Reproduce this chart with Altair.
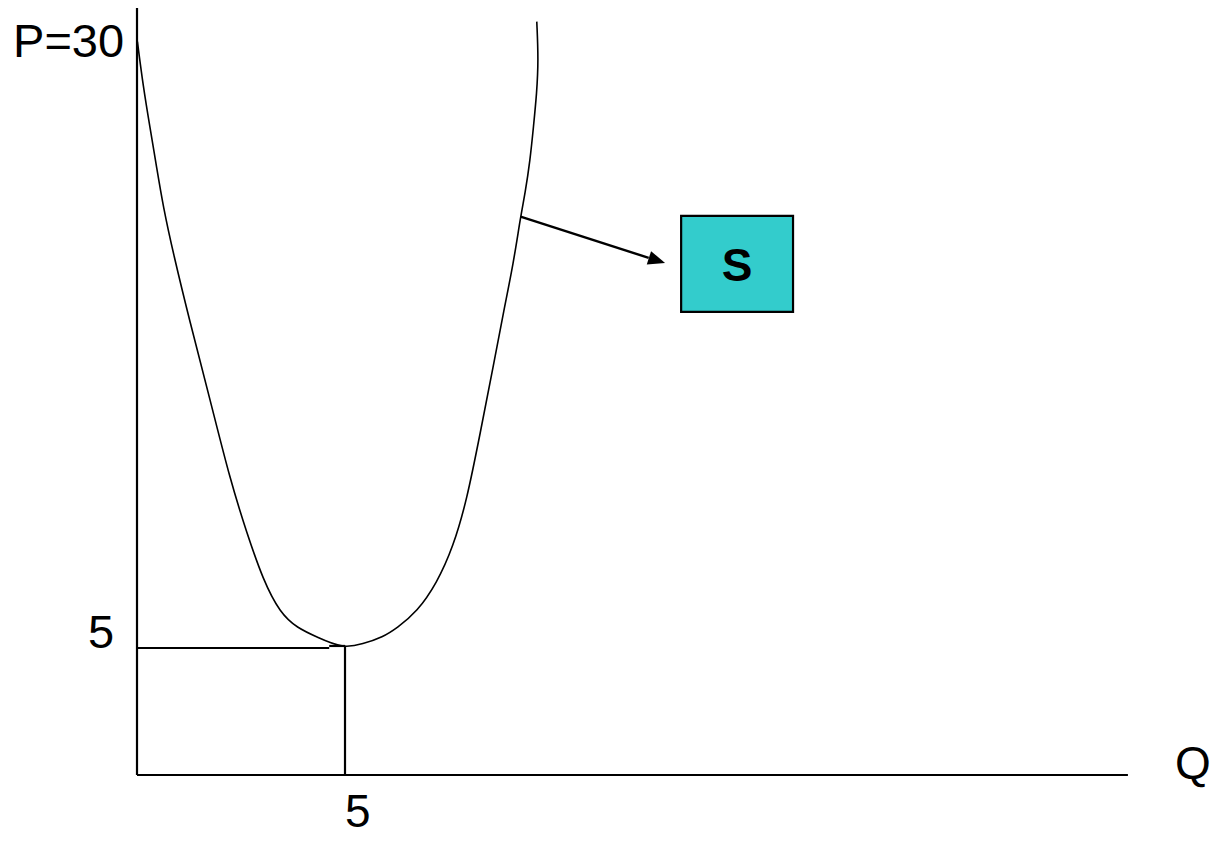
import altair as alt
import pandas as pd

# ---- data (Q, P units) ----
curve_q = [0.01, 0.15, 0.31, 0.47, 0.63, 0.87, 1.26, 1.76, 2.24, 2.64, 3.03, 3.44,
           3.85, 4.33, 4.95, 5.43, 5.91, 6.25, 6.73, 7.21, 7.60, 7.93, 8.25, 8.56,
           8.82, 9.05, 9.22, 9.33, 9.45, 9.53, 9.61, 9.65, 9.61]
curve_p = [28.87, 27.10, 25.51, 23.95, 22.37, 20.55, 17.91, 14.76, 11.61, 9.53, 7.68, 6.38,
           5.79, 5.43, 4.98, 5.16, 5.43, 5.79, 6.42, 7.56, 8.98, 10.83, 13.46, 16.06,
           18.31, 20.16, 21.98, 22.91, 24.21, 25.52, 26.85, 28.15, 29.66]

axis_q_max = 23.82
axis_p_max = 30.2
q_star = 5.0
p_star = 5.0

arrow_start = (9.22, 21.98)
arrow_end = (12.30, 20.36)
arrow_head = (12.50, 20.26)

box_q = (13.08, 15.77)
box_p = (18.23, 22.01)
box_label = "S"

labels_text = ["P=30", "5", "5", "Q"]
labels_q = [-0.31, -0.55, 5.31, 25.38]
labels_p = [28.27, 5.0, -2.05, -0.16]
labels_size = [47, 47, 46, 46]
labels_align = ["right", "right", "center", "center"]

# ---- scales ----
xs = alt.Scale(domain=[-3.101, 25.793], nice=False, zero=False)
ys = alt.Scale(domain=[-2.441, 30.197], nice=False, zero=False)
FONT = "Liberation Sans"

def X(f):
    return alt.X(f, type="quantitative", scale=xs, axis=None)

def Y(f):
    return alt.Y(f, type="quantitative", scale=ys, axis=None)

curve_df = pd.DataFrame({"q": curve_q, "p": curve_p, "i": range(len(curve_q))})
curve = alt.Chart(curve_df).mark_line(
    color="black", strokeWidth=1.6, interpolate="basis"
).encode(x=X("q"), y=Y("p"), order=alt.Order("i:Q"))

axes_df = pd.DataFrame({
    "q": [0, 0, 0, q_star - 0.38, q_star],
    "q2": [axis_q_max, 0, q_star - 0.38, q_star, q_star],
    "p": [0, 0, p_star, p_star + 0.08, 0],
    "p2": [0, axis_p_max, p_star, p_star + 0.08, p_star + 0.08],
})
axes = alt.Chart(axes_df).mark_rule(color="black", strokeWidth=2.2).encode(
    x=X("q"), x2="q2", y=Y("p"), y2="p2"
)

arrow_df = pd.DataFrame({"q": [arrow_start[0]], "q2": [arrow_end[0]],
                         "p": [arrow_start[1]], "p2": [arrow_end[1]]})
arrow = alt.Chart(arrow_df).mark_rule(color="black", strokeWidth=2.4).encode(
    x=X("q"), x2="q2", y=Y("p"), y2="p2"
)
head_df = pd.DataFrame({"q": [arrow_head[0]], "p": [arrow_head[1]]})
head = alt.Chart(head_df).mark_point(
    shape="M1,0L-1,-0.82L-1,0.82Z", filled=True, color="black", opacity=1,
    size=289, angle=18, strokeWidth=0
).encode(x=X("q"), y=Y("p"))

box_df = pd.DataFrame({"q": [box_q[0]], "q2": [box_q[1]], "p": [box_p[0]], "p2": [box_p[1]]})
box = alt.Chart(box_df).mark_rect(fill="#33CCCC", stroke="black", strokeWidth=2.2).encode(
    x=X("q"), x2="q2", y=Y("p"), y2="p2"
)
box_text_df = pd.DataFrame({"q": [(box_q[0] + box_q[1]) / 2], "p": [19.45], "t": [box_label]})
box_text = alt.Chart(box_text_df).mark_text(
    font=FONT, fontSize=46, fontWeight="bold", color="black", align="center", baseline="alphabetic"
).encode(x=X("q"), y=Y("p"), text="t:N")

lab_df = pd.DataFrame({"q": labels_q, "p": labels_p, "t": labels_text,
                       "a": labels_align, "s": labels_size})
labels = []
for a in ["right", "center"]:
    sub = lab_df[lab_df["a"] == a]
    labels.append(alt.Chart(sub).mark_text(
        font=FONT, color="black", align=a, baseline="alphabetic"
    ).encode(x=X("q"), y=Y("p"), text="t:N",
             size=alt.Size("s:Q", scale=None, legend=None)))

chart = alt.layer(curve, axes, arrow, head, box, box_text, *labels).properties(
    width=1202, height=829, padding=0, autosize=alt.AutoSizeParams(type="none"),
    background="white"
).configure_view(stroke=None)

chart.save("out.html", embed_options={"renderer": "svg", "actions": False})
